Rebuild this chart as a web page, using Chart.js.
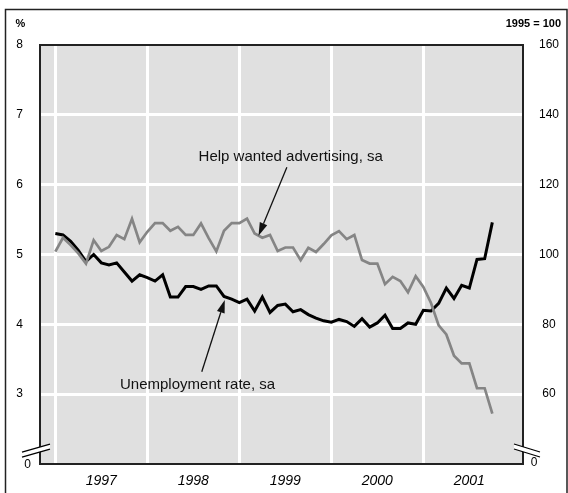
<!DOCTYPE html>
<html>
<head>
<meta charset="utf-8">
<script src="https://cdn.jsdelivr.net/npm/chart.js@4.4.0/dist/chart.umd.min.js"></script>
<style>
  html, body { margin: 0; padding: 0; background: #fff; }
  #wrap { width: 568px; height: 493px; position: relative; }
</style>
</head>
<body>
<div id="wrap"><canvas id="chart"></canvas></div>
<script>
// x is a month index, Jan 1997 = 0
const yearLabels = ["1997", "1998", "1999", "2000", "2001"];
const yearStarts = [0, 12, 24, 36, 48];
const leftTicks = [3, 4, 5, 6, 7, 8];
const rightTicks = [60, 80, 100, 120, 140, 160];

// monthly, Jan 1997 .. Oct 2001 (%)
const unemployment = [
  5.30, 5.28, 5.19, 5.06, 4.90, 5.00, 4.88, 4.85, 4.88, 4.75, 4.62, 4.71,
  4.67, 4.62, 4.71, 4.39, 4.39, 4.54, 4.54, 4.50, 4.55, 4.55, 4.40, 4.36,
  4.31, 4.36, 4.19, 4.39, 4.17, 4.27, 4.29, 4.18, 4.21, 4.14, 4.09, 4.05,
  4.03, 4.07, 4.04, 3.97, 4.08, 3.96, 4.02, 4.13, 3.94, 3.94, 4.02, 4.00,
  4.20, 4.19, 4.30, 4.52, 4.37, 4.56, 4.52, 4.93, 4.94, 5.46
];
// monthly, Jan 1997 .. Oct 2001 (1995 = 100)
const helpWanted = [
  100.8, 104.8, 102.7, 100.3, 97.4, 104.1, 101.0, 102.2, 105.6, 104.4, 110.2, 103.5,
  106.5, 109.0, 109.0, 106.8, 107.9, 105.6, 105.6, 108.9, 104.7, 100.9, 106.8, 109.0,
  109.0, 110.3, 106.0, 104.8, 105.6, 101.0, 102.0, 102.0, 98.4, 101.9, 100.7, 103.0,
  105.5, 106.7, 104.4, 105.6, 98.4, 97.4, 97.4, 91.5, 93.6, 92.4, 89.2, 93.8,
  90.7, 86.1, 79.7, 77.1, 71.0, 68.8, 68.8, 61.7, 61.7, 54.4
];

// callouts, in data units (month index, left-axis %)
const notes = [
  { text: "Help wanted advertising, sa", at: [30.7, 6.40], from: [30.2, 6.25], to: [26.5, 5.27] },
  { text: "Unemployment rate, sa", at: [18.55, 3.14], from: [19.1, 3.32], to: [22.1, 4.35] },
];

const FONT = "'Liberation Sans', Arial, Helvetica, sans-serif";

function arrow(ctx, x1, y1, x2, y2) {
  const ang = Math.atan2(y2 - y1, x2 - x1);
  const len = 13, half = 4;
  const bx = x2 - len * Math.cos(ang), by = y2 - len * Math.sin(ang);
  ctx.beginPath();
  ctx.moveTo(x1, y1);
  ctx.lineTo(bx, by);
  ctx.stroke();
  ctx.beginPath();
  ctx.moveTo(x2, y2);
  ctx.lineTo(bx + half * Math.sin(ang), by - half * Math.cos(ang));
  ctx.lineTo(bx - half * Math.sin(ang), by + half * Math.cos(ang));
  ctx.closePath();
  ctx.fill();
}

function breakMark(ctx, x1, y1, x2, y2, gap) {
  ctx.fillStyle = "#fff";
  ctx.beginPath();
  ctx.moveTo(x1, y1); ctx.lineTo(x2, y2);
  ctx.lineTo(x2, y2 + gap); ctx.lineTo(x1, y1 + gap);
  ctx.closePath();
  ctx.fill();
  ctx.strokeStyle = "#000";
  ctx.lineWidth = 1.3;
  ctx.beginPath();
  ctx.moveTo(x1, y1); ctx.lineTo(x2, y2);
  ctx.moveTo(x1, y1 + gap); ctx.lineTo(x2, y2 + gap);
  ctx.stroke();
}

const decor = {
  id: "decor",
  beforeDraw(chart) {
    const { ctx, chartArea: a } = chart;
    ctx.save();
    ctx.fillStyle = "#e0e0e0";
    ctx.fillRect(a.left, a.top, a.right - a.left, a.bottom - a.top);
    ctx.restore();
  },
  afterDatasetsDraw(chart) {
    const { ctx, scales } = chart;
    const px = (p) => [scales.x.getPixelForValue(p[0]), scales.y.getPixelForValue(p[1])];
    ctx.save();
    ctx.fillStyle = "#111";
    ctx.strokeStyle = "#111";
    ctx.lineWidth = 1.3;
    ctx.font = "15px " + FONT;
    ctx.textAlign = "center";
    ctx.textBaseline = "middle";
    notes.forEach((n) => {
      const [tx, ty] = px(n.at);
      ctx.fillText(n.text, tx, ty);
      const [x1, y1] = px(n.from);
      const [x2, y2] = px(n.to);
      arrow(ctx, x1, y1, x2, y2);
    });
    ctx.restore();
  },
  afterDraw(chart) {
    const { ctx, chartArea: a, width, height } = chart;
    ctx.save();
    // plot frame
    ctx.strokeStyle = "#222";
    ctx.lineWidth = 2;
    ctx.strokeRect(a.left, a.top, a.right - a.left, a.bottom - a.top);
    // outer frame
    ctx.lineWidth = 1.5;
    ctx.beginPath();
    ctx.moveTo(5.5, height);
    ctx.lineTo(5.5, 9.5);
    ctx.lineTo(width - 1, 9.5);
    ctx.lineTo(width - 1, height);
    ctx.stroke();
    // axis breaks
    breakMark(ctx, 22, 452, 50, 444, 5);
    breakMark(ctx, 514, 444, 540, 452, 5);
    // headers and zero labels
    ctx.fillStyle = "#000";
    ctx.textBaseline = "middle";
    ctx.font = "bold 11px " + FONT;
    ctx.textAlign = "center";
    ctx.fillText("%", 20.5, 24);
    ctx.textAlign = "right";
    ctx.fillText("1995 = 100", 561, 24);
    ctx.font = "12px " + FONT;
    ctx.textAlign = "center";
    ctx.fillText("0", 27.5, 465);
    ctx.fillText("0", 534, 463);
    ctx.restore();
  }
};

const tickFont = { family: FONT, size: 12 };

new Chart(document.getElementById("chart"), {
  type: "line",
  data: {
    datasets: [
      {
        label: "Help wanted advertising, sa",
        data: helpWanted.map((v, i) => ({ x: i, y: v })),
        yAxisID: "y2",
        borderColor: "#858585",
        borderWidth: 2.7,
        pointRadius: 0,
        tension: 0,
        order: 0,
      },
      {
        label: "Unemployment rate, sa",
        data: unemployment.map((v, i) => ({ x: i, y: v })),
        yAxisID: "y",
        borderColor: "#000",
        borderWidth: 3,
        pointRadius: 0,
        tension: 0,
        order: 1,
      },
    ],
  },
  options: {
    responsive: true,
    maintainAspectRatio: false,
    animation: false,
    layout: { padding: { top: 45, left: 0, right: 0, bottom: 0 } },
    plugins: { legend: { display: false }, tooltip: { enabled: false } },
    scales: {
      x: {
        type: "linear",
        position: "bottom",
        min: -2,
        max: 61,
        afterBuildTicks: (s) => { s.ticks = yearStarts.map((v) => ({ value: v })); },
        afterFit: (s) => { s.height = 0; },
        ticks: { display: false },
        grid: { color: "#fff", lineWidth: 3, drawTicks: false },
        border: { display: false },
      },
      xl: {
        type: "linear",
        position: "bottom",
        min: -2,
        max: 61,
        afterBuildTicks: (s) => { s.ticks = yearStarts.map((v) => ({ value: v + 6 })); },
        afterFit: (s) => { s.height = 29; },
        ticks: {
          padding: 9,
          color: "#000",
          font: { family: FONT, size: 14, style: "italic" },
          callback: (v) => yearLabels[yearStarts.indexOf(v - 6)],
        },
        grid: { display: false, drawTicks: false },
        border: { display: false },
      },
      y: {
        position: "left",
        min: 2,
        max: 8,
        afterBuildTicks: (s) => { s.ticks = leftTicks.map((v) => ({ value: v })); },
        afterFit: (s) => { s.width = 40; },
        ticks: { padding: 17, color: "#000", font: tickFont },
        grid: {
          color: (c) => (c.tick && c.tick.value === 8 ? "rgba(0,0,0,0)" : "#fff"),
          lineWidth: 3,
          drawTicks: false,
        },
        border: { display: false },
      },
      y2: {
        position: "right",
        min: 40,
        max: 160,
        afterBuildTicks: (s) => { s.ticks = rightTicks.map((v) => ({ value: v })); },
        afterFit: (s) => { s.width = 45; },
        ticks: { padding: 16, crossAlign: "center", color: "#000", font: tickFont },
        grid: { display: false, drawTicks: false },
        border: { display: false },
      },
    },
  },
  plugins: [decor],
});
</script>
</body>
</html>
